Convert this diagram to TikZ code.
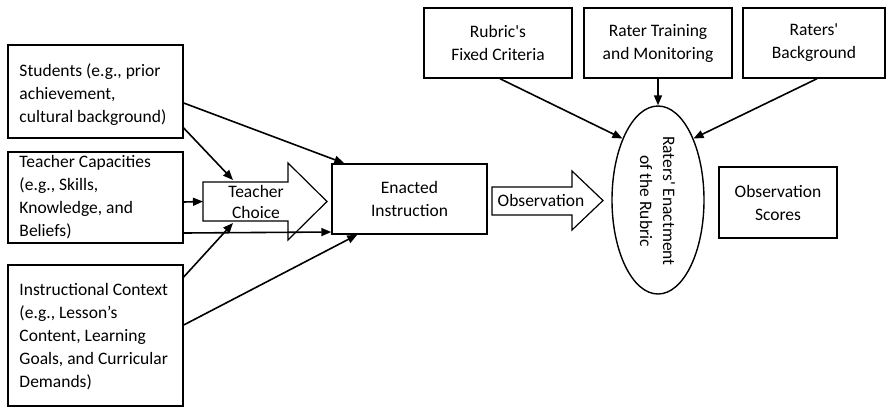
\documentclass[tikz,border=0pt]{standalone}
\usepackage{fontspec}
\setmainfont{Carlito}
\usetikzlibrary{arrows.meta,shapes.geometric}
\begin{document}
\begin{tikzpicture}[x=1pt,y=-1pt,
  every node/.style={font=\fontsize{17.5}{23}\selectfont, inner sep=0pt},
  box/.style={draw, line width=1.4pt, rectangle, align=center},
  lbox/.style={draw, line width=1.4pt, rectangle, minimum width=175pt},
  ltext/.style={align=left, anchor=west},
  bigarrow/.style={draw, line width=1.2pt, fill=white, line join=miter},
  conn/.style={line width=1.6pt, -{Triangle[length=10pt,width=8pt]}}]
\useasboundingbox (0,0) rectangle (887,408);
% left boxes
\node[lbox, minimum height=93pt] (stud) at (95.5,91.5) {};
\node[ltext] (studt) at ([xshift=12pt,yshift=-3pt]stud.west) {Students (e.g., prior\\achievement,\\cultural background)};
\node[lbox, minimum height=91pt] (tcap) at (95.5,197.5) {};
\node[ltext] (tcapt) at ([xshift=12pt]tcap.west) {Teacher Capacities\\(e.g., Skills,\\Knowledge, and\\Beliefs)};
\node[lbox, minimum height=141pt] (ictx) at (95.5,335.5) {};
\node[ltext] (ictxt) at ([xshift=12pt,yshift=-1pt]ictx.west) {Instructional Context\\(e.g., Lesson’s\\Content, Learning\\Goals, and Curricular\\Demands)};
% teacher choice arrow
\draw[bigarrow] (203,182) -- (288,182) -- (288,163) -- (327,201.5) -- (288,240) -- (288,221) -- (203,221) -- cycle;
\node[align=center] (tchoice) at (256,202) {Teacher\\[-2pt]Choice};
\coordinate (tctop) at (233,180);
\coordinate (tcbot) at (233,223);
\coordinate (tcleft) at (203,201.5);
% enacted
\node[box, minimum width=155pt, minimum height=70pt] (enact) at (409.5,199) {Enacted\\Instruction};
% observation arrow
\draw[bigarrow] (492,187) -- (572,187) -- (572,171) -- (603,200.5) -- (572,230) -- (572,215) -- (492,215) -- cycle;
\node (obs) at (541,200) {Observation};
% top boxes
\node[box, minimum width=148pt, minimum height=70pt] (rubric) at (498,43) {Rubric\textquotesingle s\\Fixed Criteria};
\node[box, minimum width=148pt, minimum height=70pt] (train) at (658,43) {Rater Training\\and Monitoring};
\node[box, minimum width=142pt, minimum height=70pt] (back) at (814,43) {Raters\textquotesingle\\Background};
% ellipse
\node[draw, line width=1.4pt, ellipse, minimum width=92pt, minimum height=188pt] (rater) at (658,200) {};
\node[rotate=-90, align=center] (ratertxt) at (657.5,201) {Raters\textquotesingle\ Enactment\\of the Rubric};
% scores
\node[box, minimum width=118pt, minimum height=71pt] (score) at (778,202.5) {Observation\\Scores};
% connectors
\draw[conn] ([yshift=-11.5pt]stud.east) -- ([xshift=13pt]enact.north west);
\draw[conn] ([yshift=-36.5pt]stud.east) -- (tctop);
\draw[conn] ([yshift=-4.5pt]tcap.east) -- (tcleft);
\draw[conn] ([yshift=-35.5pt]tcap.east) -- ([yshift=-33pt]enact.west);
\draw[conn] ([yshift=58.5pt]ictx.east) -- (tcbot);
\draw[conn] ([yshift=10.5pt]ictx.east) -- ([xshift=26pt]enact.south west);
\draw[conn] ([xshift=2pt]rubric.south) -- (rater.120);
\draw[conn] (train.south) -- (rater.north);
\draw[conn] ([xshift=3pt]back.south) -- (rater.60);
\end{tikzpicture}
\end{document}
